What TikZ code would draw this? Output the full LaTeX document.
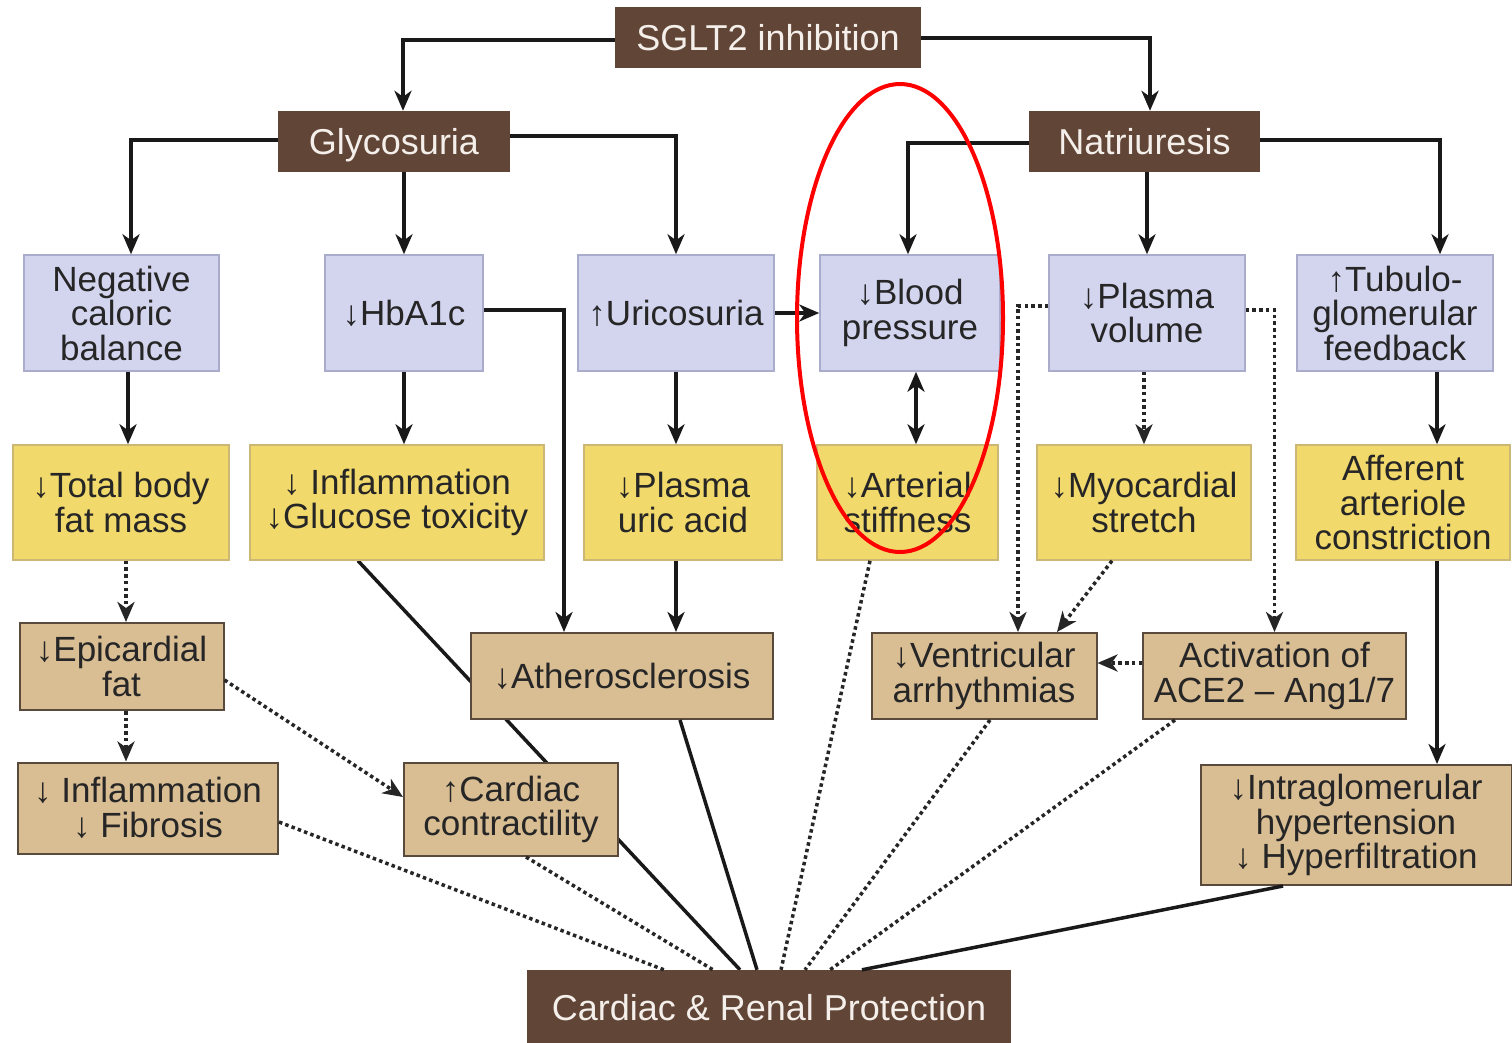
\documentclass[tikz,border=0pt]{standalone}
\usepackage{fontspec}
\setmainfont{Liberation Sans}
\usetikzlibrary{arrows.meta,backgrounds,calc}
\definecolor{dbrown}{HTML}{614536}
\definecolor{lavfill}{HTML}{D3D5EF}
\definecolor{lavline}{HTML}{A9ACCA}
\definecolor{yelfill}{HTML}{F2D96C}
\definecolor{yelline}{HTML}{CDB774}
\definecolor{tanfill}{HTML}{D9BD93}
\definecolor{tanline}{HTML}{5A4A3C}
\definecolor{txt}{HTML}{262626}
\definecolor{wtxt}{HTML}{F4EFEA}
\tikzset{
 base/.style={align=center, inner sep=0pt, font=\fontsize{35}{34.5}\selectfont, text=txt},
 darkbox/.style={base, fill=dbrown, text=wtxt, font=\fontsize{36}{36}\selectfont, text depth=0pt},
 lavbox/.style={base, fill=lavfill, draw=lavline, line width=1.5pt},
 yelbox/.style={base, fill=yelfill, draw=yelline, line width=1.5pt},
 tanbox/.style={base, fill=tanfill, draw=tanline, line width=2pt},
 tip/.tip={Stealth[length=20pt,width=17pt,inset=6pt]},
 conn/.style={line width=3.5pt, draw=black!90},
 arr/.style={conn, -tip},
 dotline/.style={line width=3.5pt, dash pattern=on 3.5pt off 3.2pt, draw=black!85},
 darr/.style={dotline, -tip},
 ell/.style={draw=red, line width=4pt}
}
\begin{document}
\begin{tikzpicture}[x=1pt,y=-1pt]
\useasboundingbox (0,0) rectangle (1512,1042);
% top level
\node[darkbox, minimum width=306, minimum height=61] (sglt) at (768,37.5) {SGLT2 inhibition};
\node[darkbox, minimum width=232, minimum height=61] (gly) at (394,141.5) {Glycosuria};
\node[darkbox, minimum width=231, minimum height=61] (nat) at (1144.5,141.5) {Natriuresis};
% lavender row
\node[lavbox, minimum width=195, minimum height=116] (ncb) at (121.5,313) {Negative\\caloric\\balance};
\node[lavbox, minimum width=158, minimum height=116] (hba) at (404,313) {↓HbA1c};
\node[lavbox, minimum width=196, minimum height=116] (uri) at (676,313) {↑Uricosuria};
\node[lavbox, minimum width=180, minimum height=116] (bp) at (910,313) {↓Blood\\pressure};
\node[lavbox, minimum width=196, minimum height=116] (pv) at (1147,313) {↓Plasma\\volume};
\node[lavbox, minimum width=196, minimum height=116] (tgf) at (1395,313) {↑Tubulo-\\glomerular\\feedback};
% yellow row
\node[yelbox, minimum width=216, minimum height=115] (tbf) at (121,502.5) {↓Total body\\fat mass};
\node[yelbox, minimum width=294, minimum height=115] (infl) at (397,502.5) {↓ Inflammation\\↓Glucose toxicity};
\node[yelbox, minimum width=198, minimum height=115] (pua) at (683,502.5) {↓Plasma\\uric acid};
\node[yelbox, minimum width=181, minimum height=115] (ast) at (907.5,502.5) {↓Arterial\\stiffness};
\node[yelbox, minimum width=214, minimum height=115] (mys) at (1144,502.5) {↓Myocardial\\stretch};
\node[yelbox, minimum width=214, minimum height=115] (aac) at (1403,502.5) {Afferent\\arteriole\\constriction};
% tan boxes
\node[tanbox, minimum width=204, minimum height=87] (epi) at (121.5,666.5) {↓Epicardial\\fat};
\node[tanbox, minimum width=260, minimum height=91] (iff) at (148,808) {↓ Inflammation\\↓ Fibrosis};
\node[tanbox, minimum width=302, minimum height=86] (ath) at (622,676) {↓Atherosclerosis};
\node[tanbox, minimum width=214, minimum height=93] (cc) at (511,809.5) {↑Cardiac\\contractility};
\node[tanbox, minimum width=225, minimum height=86] (va) at (984,676) {↓Ventricular\\arrhythmias};
\node[tanbox, minimum width=263, minimum height=86] (ace) at (1274.5,676) {Activation of\\ACE2 – Ang1/7};
\node[tanbox, minimum width=311, minimum height=120] (igh) at (1356,825) {↓Intraglomerular\\hypertension\\↓ Hyperfiltration};
\node[darkbox, minimum width=484, minimum height=75] (prot) at (769,1007.5) {Cardiac \& Renal Protection};
% top connectors
\draw[arr] ([yshift=-2.5pt]sglt.west) -| ([xshift=9pt]gly.north);
\draw[arr] ([yshift=-0.5pt]sglt.east) -| ([xshift=5.5pt]nat.north);
\draw[arr] ([yshift=1.5pt]gly.west) -| ([xshift=9.5pt]ncb.north);
\draw[arr] (hba.north |- gly.south) -- (hba.north);
\draw[arr] ([yshift=5.5pt]gly.east) -| (uri.north);
\draw[arr] ([yshift=-1.5pt]nat.west) -| ([xshift=-2pt]bp.north);
\draw[arr] (pv.north |- nat.south) -- (pv.north);
\draw[arr] ([yshift=1.5pt]nat.east) -| ([xshift=45pt]tgf.north);
% second level
\draw[arr] ([xshift=6.5pt]ncb.south) -- ([xshift=6.5pt]ncb.south |- tbf.north);
\draw[arr] (hba.south) -- (hba.south |- infl.north);
\draw[arr] ([yshift=3pt]hba.east) -| ([xshift=-58pt]ath.north);
\draw[arr] (uri.south) -- (uri.south |- pua.north);
\draw[arr] (uri.east) -- (bp.west);
\draw[arr] (uri.south |- pua.south) -- (uri.south |- ath.north);
\draw[conn, tip-tip] ([xshift=6pt]bp.south) -- ([xshift=6pt]bp.south |- ast.north);
\draw[darr] (mys.north |- pv.south) -- (mys.north);
\draw[darr] ([yshift=7pt]pv.west) -| ([xshift=34pt]va.north);
\draw[darr] ([yshift=3pt]pv.east) -| (ace.north);
\draw[darr] ([xshift=-32pt]mys.south) -- ([xshift=73pt]va.north);
\draw[darr] ([yshift=13pt]ace.west) -- ([yshift=13pt]va.east);
\draw[arr] ([xshift=42pt]tgf.south) -- ([xshift=42pt]tgf.south |- aac.north);
\draw[arr] ([xshift=34pt]aac.south) -- ([xshift=34pt]aac.south |- igh.north);
\draw[darr] ([xshift=5pt]tbf.south) -- ([xshift=5pt]tbf.south |- epi.north);
\draw[darr] ([xshift=4.5pt]epi.south) -- ([xshift=4.5pt]epi.south |- iff.north);
\draw[darr] ([yshift=-13.5pt]epi.east) -- ([yshift=12.5pt]cc.west);
% lines to protection
\begin{scope}[on background layer]
\draw[conn] ([xshift=-39pt]infl.south) -- ([xshift=-29pt]prot.north);
\end{scope}
\draw[conn] ([xshift=58pt]ath.south) -- ([xshift=-12pt]prot.north);
\draw[dotline] ([yshift=-14pt]iff.east) -- ([xshift=-105pt]prot.north);
\draw[dotline] ([xshift=15pt]cc.south) -- ([xshift=-56pt]prot.north);
\draw[dotline] ([xshift=-37.5pt]ast.south) -- ([xshift=12pt]prot.north);
\draw[dotline] ([xshift=6pt]va.south) -- ([xshift=36pt]prot.north);
\draw[dotline] ([xshift=-99.5pt]ace.south) -- ([xshift=61pt]prot.north);
\draw[conn] ([xshift=-73pt]igh.south) -- ([xshift=93pt]prot.north);
% red highlight ellipse
\draw[ell] (900,318) ellipse [x radius=103, y radius=234];
\end{tikzpicture}
\end{document}
